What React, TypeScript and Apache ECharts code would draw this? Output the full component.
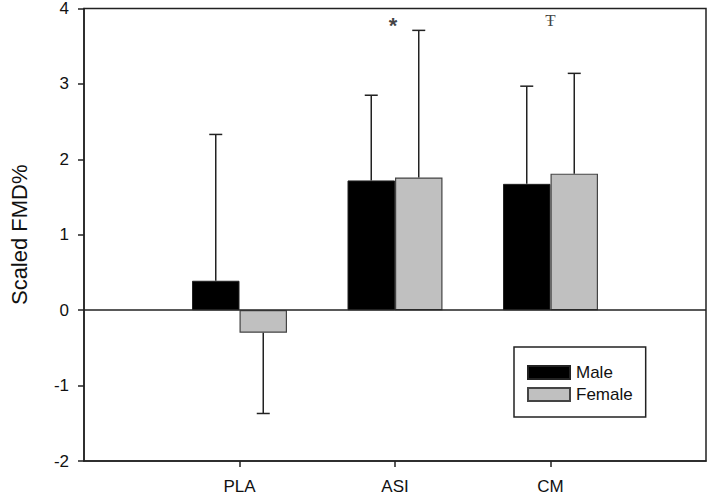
import React, { useEffect, useRef } from "react";
import * as echarts from "echarts";

const categories = ["", "PLA", "ASI", "CM", ""];
const maleValues = [null, 0.39, 1.72, 1.675, null];
const femaleValues = [null, -0.3, 1.76, 1.81, null];
const maleErrEnd = [null, 2.33, 2.85, 2.97, null];
const femaleErrEnd = [null, -1.37, 3.71, 3.14, null];
const yTicks = [-2, -1, 0, 1, 2, 3, 4];
const annotations: [string, number, string, string, number][] = [
  ["ASI", 3.77, "*", "Liberation Sans", 22],
  ["CM", 3.84, "Ŧ", "Liberation Serif", 17],
];

const BAR_W = 47.5;
const FONT = "Liberation Sans";

function errData(vals: (number | null)[], ends: (number | null)[]) {
  const out: number[][] = [];
  vals.forEach((v, i) => {
    if (v !== null && ends[i] !== null) out.push([i, v, ends[i] as number]);
  });
  return out;
}

function makeErrRender(offset: number) {
  return (params: any, api: any) => {
    const top = api.coord([api.value(0), api.value(1)]);
    const end = api.coord([api.value(0), api.value(2)]);
    const x = top[0] + offset;
    const style = { stroke: "#222", lineWidth: 1.5 };
    return {
      type: "group",
      children: [
        { type: "line", shape: { x1: x, y1: top[1], x2: x, y2: end[1] }, style },
        { type: "line", shape: { x1: x - 6.5, y1: end[1], x2: x + 6.5, y2: end[1] }, style },
      ],
    };
  };
}

export default function App() {
  const ref = useRef<HTMLDivElement>(null);
  useEffect(() => {
    if (!ref.current) return;
    const chart = echarts.init(ref.current, null, { renderer: "svg" });
    chart.setOption({
      animation: false,
      backgroundColor: "#fff",
      grid: {
        left: 63,
        top: 6,
        right: 2,
        bottom: 33,
        show: true,
        borderColor: "#222",
        borderWidth: 1.5,
        backgroundColor: "transparent",
      },
      legend: {
        orient: "vertical",
        left: 514,
        top: 347,
        data: ["Male", "Female"],
        icon: "rect",
        itemWidth: 42,
        itemHeight: 13,
        itemGap: 5,
        padding: [17, 13, 14, 13],
        borderColor: "#222",
        borderWidth: 1.5,
        textStyle: { fontFamily: FONT, fontSize: 17, color: "#111", padding: [0, 0, 0, 1] },
      },
      xAxis: {
        type: "category",
        data: categories,
        boundaryGap: false,
        axisLine: { onZero: false, lineStyle: { color: "#222", width: 1.5 } },
        axisTick: {
          length: 6,
          alignWithLabel: true,
          interval: (i: number, v: string) => v !== "",
          lineStyle: { color: "#222", width: 1.5 },
        },
        axisLabel: {
          interval: 0,
          fontFamily: FONT,
          fontSize: 17,
          color: "#111",
          margin: 17,
        },
        splitLine: { show: false },
      },
      yAxis: {
        type: "value",
        min: yTicks[0],
        max: yTicks[yTicks.length - 1],
        interval: 1,
        name: "Scaled FMD%",
        nameLocation: "middle",
        nameGap: 54,
        nameTextStyle: { fontFamily: FONT, fontSize: 22, color: "#111" },
        axisLine: { show: true, onZero: false, lineStyle: { color: "#222", width: 1.5 } },
        axisTick: { show: true, length: 6, lineStyle: { color: "#222", width: 1.5 } },
        axisLabel: { fontFamily: FONT, fontSize: 17, color: "#111", margin: 15 },
        splitLine: { show: false },
      },
      series: [
        {
          name: "Male",
          type: "bar",
          data: maleValues,
          barWidth: BAR_W,
          barGap: "0%",
          itemStyle: { color: "#000", borderColor: "#222", borderWidth: 1 },
          markLine: {
            silent: true,
            symbol: "none",
            label: { show: false },
            lineStyle: { color: "#222", width: 1.5, type: "solid" },
            data: [{ yAxis: 0 }],
          },
          z: 2,
        },
        {
          name: "Female",
          type: "bar",
          data: femaleValues,
          barWidth: BAR_W,
          barGap: "0%",
          itemStyle: { color: "#c0c0c0", borderColor: "#444", borderWidth: 1.2 },
          z: 2,
        },
        {
          type: "custom",
          renderItem: makeErrRender(-BAR_W / 2),
          data: errData(maleValues, maleErrEnd),
          encode: { x: 0, y: [1, 2] },
          z: 3,
          silent: true,
        },
        {
          type: "custom",
          renderItem: makeErrRender(BAR_W / 2),
          data: errData(femaleValues, femaleErrEnd),
          encode: { x: 0, y: [1, 2] },
          z: 3,
          silent: true,
        },
        {
          type: "scatter",
          symbolSize: 0,
          silent: true,
          data: annotations.map((a) => ({
            value: [a[0], a[1]],
            label: {
              show: true,
              position: "inside",
              formatter: a[2],
              fontFamily: a[3],
              fontSize: a[4],
              color: "#111",
              fontWeight: a[2] === "*" ? "bold" : "normal",
              offset: a[2] === "*" ? [-2, 0] : [0, 0],
            },
          })),
          z: 4,
        },
      ],
    });
    return () => chart.dispose();
  }, []);
  return (
    <div
      ref={ref}
      style={{ position: "fixed", left: 0, top: 0, width: 709, height: 495 }}
    />
  );
}
